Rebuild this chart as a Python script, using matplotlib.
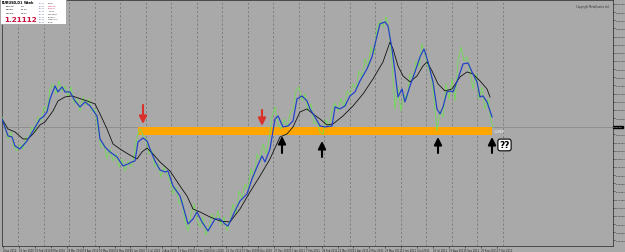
import matplotlib
matplotlib.use("Agg")
import matplotlib.pyplot as plt
import numpy as np
from matplotlib.patches import Rectangle

# price series (bar index -> price)
green_bar = list(range(2, 492, 3)) + [493]
green_px = [
    1.2161, 1.2111, 1.2051, 1.2086, 1.2011, 1.1991, 1.2026, 1.2001, 1.2061, 1.2051,
    1.2111, 1.2086, 1.2161, 1.2141, 1.2211, 1.2191, 1.2301, 1.2326, 1.2276, 1.2341,
    1.2291, 1.2316, 1.2261, 1.2311, 1.2231, 1.2251, 1.2191, 1.2261, 1.2221, 1.2251,
    1.2191, 1.2201, 1.2101, 1.2011, 1.2026, 1.1951, 1.2001, 1.1941, 1.1976, 1.1911,
    1.1951, 1.1891, 1.1941, 1.1911, 1.1961, 1.2061, 1.2101, 1.2071, 1.2051, 1.1976,
    1.1991, 1.1911, 1.1926, 1.1861, 1.1911, 1.1876, 1.1841, 1.1776, 1.1811, 1.1726,
    1.1751, 1.1641, 1.1591, 1.1676, 1.1726, 1.1651, 1.1611, 1.1661, 1.1571, 1.1611,
    1.1676, 1.1641, 1.1691, 1.1621, 1.1661, 1.1591, 1.1641, 1.1726, 1.1676, 1.1791,
    1.1751, 1.1826, 1.1801, 1.1901, 1.1861, 1.1976, 1.1941, 1.2026, 1.1976, 1.2051,
    1.2161, 1.2211, 1.2126, 1.2101, 1.2151, 1.2111, 1.2176, 1.2201, 1.2291, 1.2311,
    1.2241, 1.2276, 1.2191, 1.2226, 1.2126, 1.2141, 1.2086, 1.2076, 1.2151, 1.2111,
    1.2191, 1.2231, 1.2191, 1.2251, 1.2211, 1.2291, 1.2271, 1.2326, 1.2301, 1.2391,
    1.2361, 1.2451, 1.2411, 1.2511, 1.2476, 1.2601, 1.2641, 1.2611, 1.2661, 1.2601,
    1.2441, 1.2201, 1.2311, 1.2191, 1.2276, 1.2251, 1.2376, 1.2351, 1.2441, 1.2411,
    1.2526, 1.2476, 1.2411, 1.2376, 1.2251, 1.2091, 1.2191, 1.2161, 1.2326, 1.2251,
    1.2351, 1.2241, 1.2441, 1.2511, 1.2441, 1.2461, 1.2391, 1.2301, 1.2376, 1.2251,
    1.2311, 1.2201, 1.2251, 1.2141, 1.2111,
]

blue_bar = [2, 8, 12, 15, 20, 27, 33, 40, 43, 47, 50, 55, 58, 62, 65, 70, 75, 80, 85, 90,
            97, 100, 105, 110, 117, 123, 128, 132, 135, 138, 143, 147, 150, 155, 160, 165,
            168, 173, 180, 183, 188, 193, 197, 202, 208, 215, 220, 225, 228, 235, 240, 247,
            252, 257, 262, 265, 270, 275, 278, 283, 288, 293, 297, 302, 307, 310, 315, 320,
            325, 332, 335, 340, 345, 350, 355, 360, 367, 372, 377, 380, 385, 388, 392, 395,
            398, 402, 405, 410, 415, 420, 424, 428, 433, 437, 440, 443, 447, 450, 453, 458,
            463, 468, 472, 477, 480, 483, 487, 492]
blue_px = [1.2151, 1.2066, 1.2061, 1.2016, 1.2001, 1.2041, 1.2091, 1.2151, 1.2161, 1.2186,
           1.2251, 1.2316, 1.2286, 1.2311, 1.2286, 1.2286, 1.2241, 1.2211, 1.2236, 1.2216,
           1.2166, 1.2051, 1.2011, 1.1986, 1.1961, 1.1916, 1.1926, 1.1936, 1.1941, 1.2036,
           1.2056, 1.2041, 1.2001, 1.1941, 1.1896, 1.1886, 1.1891, 1.1816, 1.1766, 1.1716,
           1.1626, 1.1651, 1.1686, 1.1636, 1.1591, 1.1651, 1.1651, 1.1626, 1.1616, 1.1691,
           1.1741, 1.1776, 1.1851, 1.1911, 1.1966, 1.1936, 1.2001, 1.2151, 1.2166, 1.2111,
           1.2116, 1.2141, 1.2251, 1.2266, 1.2241, 1.2201, 1.2161, 1.2116, 1.2111, 1.2116,
           1.2211, 1.2201, 1.2216, 1.2266, 1.2286, 1.2341, 1.2401, 1.2461, 1.2566, 1.2626,
           1.2636, 1.2616, 1.2501, 1.2386, 1.2261, 1.2301, 1.2236, 1.2316, 1.2386, 1.2461,
           1.2501, 1.2436, 1.2336, 1.2201, 1.2176, 1.2211, 1.2286, 1.2291, 1.2286, 1.2351,
           1.2426, 1.2431, 1.2386, 1.2336, 1.2261, 1.2266, 1.2236, 1.2161]

black_bar = [2, 8, 15, 23, 28, 33, 40, 45, 53, 58, 65, 72, 78, 87, 95, 100, 107, 113, 120, 128,
             137, 142, 147, 153, 160, 170, 180, 187, 193, 200, 210, 220, 230, 240, 250, 260,
             270, 280, 287, 293, 300, 307, 313, 320, 327, 333, 343, 353, 363, 373, 383, 390,
             393, 398, 403, 410, 417, 423, 427, 432, 438, 445, 452, 460, 467, 473, 480, 487, 490]
black_px = [1.2151, 1.2101, 1.2086, 1.2051, 1.2051, 1.2076, 1.2121, 1.2136, 1.2191, 1.2241,
            1.2261, 1.2266, 1.2256, 1.2241, 1.2226, 1.2176, 1.2101, 1.2026, 1.2001, 1.1976,
            1.1951, 1.1986, 1.2006, 1.1976, 1.1936, 1.1891, 1.1816, 1.1766, 1.1701, 1.1686,
            1.1661, 1.1641, 1.1636, 1.1701, 1.1786, 1.1866, 1.1951, 1.2061, 1.2076, 1.2111,
            1.2186, 1.2201, 1.2176, 1.2151, 1.2121, 1.2126, 1.2166, 1.2216, 1.2276, 1.2351,
            1.2436, 1.2536, 1.2501, 1.2416, 1.2366, 1.2336, 1.2366, 1.2416, 1.2436, 1.2391,
            1.2326, 1.2291, 1.2301, 1.2361, 1.2386, 1.2376, 1.2341, 1.2301, 1.2261]

bid = 1.21112
zone_start, zone_end = 138, 492
zone_low, zone_high = 1.2069, 1.2109
red_arrow_bars = [143, 262]
red_arrow_top = [1.2221, 1.2196]
red_arrow_tip = [1.2126, 1.2116]
black_arrow_bars = [282, 322, 438, 492]
black_arrow_base = [1.1981, 1.1961, 1.1981, 1.1981]
black_arrow_tip = [1.2066, 1.2041, 1.2061, 1.2061]

time_labels = ["4 Jan 2010", "25 Jan 2010", "15 Feb 2010", "8 Mar 2010", "29 Mar 2010",
               "19 Apr 2010", "10 May 2010", "31 May 2010", "21 Jun 2010", "12 Jul 2010",
               "2 Aug 2010", "23 Aug 2010", "13 Sep 2010", "4 Oct 2010", "25 Oct 2010",
               "15 Nov 2010", "6 Dec 2010", "27 Dec 2010", "17 Jan 2011", "7 Feb 2011",
               "28 Feb 2011", "21 Mar 2011", "11 Apr 2011", "2 May 2011", "23 May 2011",
               "13 Jun 2011", "4 Jul 2011", "25 Jul 2011", "15 Aug 2011", "5 Sep 2011",
               "26 Sep 2011", "17 Oct 2011"]
time_label_bars = [3 + 15.93 * i for i in range(len(time_labels))]
grid_bars = [18 + 25.5 * i for i in range(20)]
price_ticks = [1.2726 - 0.004075 * i for i in range(30)]

W, H = 625, 253
BG = "#a9a9a9"
fig = plt.figure(figsize=(W / 100, H / 100), dpi=100, facecolor=BG)
ax = fig.add_axes([2 / W, 6 / H, 611 / W, 246 / H], facecolor=BG)
ax.set_xlim(2, 613)
ax.set_ylim(1.1516, 1.27455)

for g in grid_bars:
    ax.axvline(g, color="#6e6e6e", lw=0.5, ls=(0, (3, 3)), zorder=1)
ax.axhline(bid, color="#8a8a8a", lw=0.6, zorder=1)

ax.fill_between([zone_start, zone_end], zone_low, zone_high, color="#ffa500", lw=0, zorder=2)
ax.text(zone_end + 2, (zone_low + zone_high) / 2 + 0.0004, "1.2089", color="white",
        fontsize=2.2, va="center", ha="left", zorder=5)

ax.plot(green_bar, green_px, color="#72dc55", lw=0.6, zorder=3)
ax.plot(black_bar, black_px, color="#111111", lw=0.6, zorder=4)
ax.plot(blue_bar, blue_px, color="#1e3ec8", lw=0.85, zorder=4)

arrow_style = "-|>,head_width=0.45,head_length=0.9"
for x, y0, y1 in zip(red_arrow_bars, red_arrow_top, red_arrow_tip):
    ax.annotate("", xy=(x, y1), xytext=(x, y0), zorder=6,
                arrowprops=dict(arrowstyle=arrow_style, mutation_scale=5, shrinkA=0,
                                shrinkB=0, color="#d9302a", lw=1.5))
for x, y0, y1 in zip(black_arrow_bars, black_arrow_base, black_arrow_tip):
    ax.annotate("", xy=(x, y1), xytext=(x, y0), zorder=6,
                arrowprops=dict(arrowstyle=arrow_style, mutation_scale=5, shrinkA=0,
                                shrinkB=0, color="#000000", lw=1.5))

ax.text(504.5, 1.2021, "??", fontsize=6.5, fontweight="bold", ha="center", va="center",
        zorder=7, bbox=dict(boxstyle="round,pad=0.15,rounding_size=0.25", fc="white",
                            ec="black", lw=0.8))

# right price scale (the label under the bid box is hidden, like in the terminal)
ax.yaxis.tick_right()
ax.set_yticks(price_ticks)
ax.set_yticklabels(["" if abs(v - bid) < 0.0015 else f"{v:.5f}" for v in price_ticks])
ax.tick_params(axis="y", length=1.5, width=0.4, pad=0.5, labelsize=1.75, colors="#222222")
ax.text(1.0, bid, f"{bid:.5f}", transform=ax.get_yaxis_transform(), fontsize=1.75,
        color="white", ha="left", va="center", zorder=8,
        bbox=dict(boxstyle="square,pad=0.2", fc="black", ec="black"))

# time scale
ax.set_xticks(time_label_bars)
ax.set_xticklabels(time_labels, ha="left")
ax.tick_params(axis="x", length=1.5, width=0.4, pad=0.2, labelsize=1.8, colors="#222222")

for s in ax.spines.values():
    s.set_color("#3a3a3a")
    s.set_linewidth(0.6)

ax.text(0.995, 0.985, "Copyright MetaQuotes Ltd.", transform=ax.transAxes, fontsize=1.8,
        ha="right", va="top", color="#333333")

# info panel top-left
def fx(px):
    return px / W

def fy(py):
    return 1 - py / H

fig.patches.append(Rectangle((0, fy(25)), fx(66), 25 / H, transform=fig.transFigure,
                             fc="white", ec="#888888", lw=0.4, zorder=10))
fig.text(fx(2), fy(3.3), "EURUSD,D1", fontsize=2.4, fontweight="bold", va="center", zorder=11)
fig.text(fx(24), fy(3.3), "Week", fontsize=2.4, fontweight="bold", va="center", zorder=11)
for i, (k, v) in enumerate([("Spread:", "1.6"), ("Range:", "52.10"), ("Candle:", "23:11")]):
    fig.text(fx(6), fy(6.8 + 3.2 * i), k, fontsize=1.7, va="center", zorder=11)
    fig.text(fx(21), fy(6.8 + 3.2 * i), v, fontsize=1.7, va="center", zorder=11)
fig.text(fx(4), fy(19.5), "1.21112", fontsize=5.2, fontweight="bold", color="#c8103c",
         va="center", zorder=11)
cities = ["Brasil", "Moscow", "Sydney", "Tokyo", "Frankfurt", "London", "New York", "Local"]
city_colors = ["#333333", "#d0205a", "#d0205a", "#333333", "#333333", "#333333", "#333333", "#333333"]
for i, (c, col) in enumerate(zip(cities, city_colors)):
    yy = fy(3.3 + 2.75 * i)
    fig.text(fx(39), yy, "00:11", fontsize=1.5, color="#5060a0", va="center", zorder=11)
    fig.text(fx(48), yy, c, fontsize=1.5, color=col, va="center", zorder=11)

fig.savefig("out.png", dpi=100, facecolor=BG)
